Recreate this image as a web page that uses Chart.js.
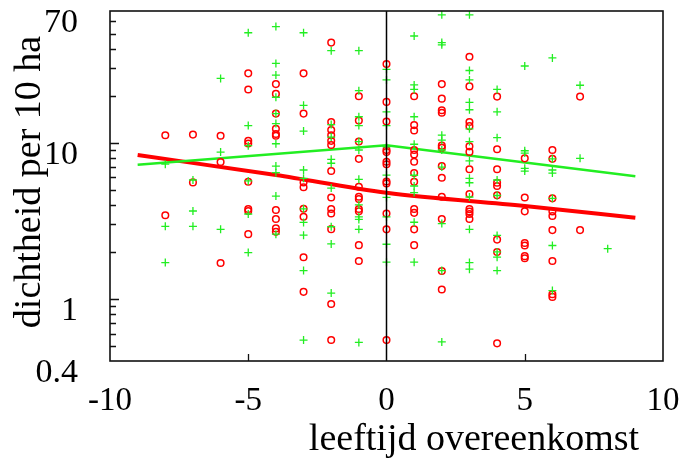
<!DOCTYPE html>
<html>
<head>
<meta charset="utf-8">
<script src="https://cdn.jsdelivr.net/npm/chart.js@4.4.1/dist/chart.umd.min.js"></script>
<style>
  html, body { margin: 0; padding: 0; background: #fff; }
  #wrap { width: 683px; height: 466px; }
</style>
</head>
<body>
<div id="wrap"><canvas id="grafico"></canvas></div>
<script>
// leeftijd overeenkomst (x) per kolom
const leeftijd = [-8, -7, -6, -5, -4, -3, -2, -1, 0, 1, 2, 3, 4, 5, 6, 7, 8];

// rode rondjes, dichtheid per kolom
const roodDichtheid = [
  [11.2, 3.44],
  [11.3, 5.58],
  [11.1, 7.54, 1.70],
  [27.9, 22.0, 10.3, 9.9, 5.63, 3.77, 3.66, 2.60],
  [23.8, 20.6, 15.4, 12.3, 11.4, 11.1, 3.71, 3.25, 2.83, 2.69],
  [27.9, 15.4, 5.58, 5.19, 3.78, 3.36, 1.85, 1.11],
  [43.9, 13.6, 12.1, 11.2, 10.3, 9.68, 6.6, 4.47, 3.77, 3.53, 2.80, 0.927, 0.545],
  [19.9, 13.9, 10.2, 7.9, 5.23, 4.52, 4.36, 3.77, 3.64, 2.21, 1.75],
  [32.0, 18.3, 13.7, 9.0, 8.73, 7.57, 7.3, 5.66, 5.5, 3.53, 2.79, 0.545],
  [19.9, 13.0, 12.0, 9.0, 8.43, 7.57, 6.41, 5.63, 3.77, 3.56, 2.79, 2.21],
  [23.8, 19.2, 16.2, 15.6, 9.6, 9.3, 7.1, 5.97, 4.52, 3.25, 1.51, 1.15],
  [35.6, 23.0, 13.6, 12.8, 9.5, 8.75, 6.77, 4.7, 3.76, 3.63, 3.5, 3.25],
  [19.8, 9.1, 6.77, 5.55, 5.29, 4.61, 2.4, 2.0, 0.519],
  [7.96, 4.47, 3.64, 2.28, 2.2, 1.88, 1.82],
  [9.0, 7.9, 4.41, 3.63, 3.40, 2.76, 1.75, 1.07, 1.03],
  [19.8, 2.76],
  []
];

// groene plusjes, dichtheid per kolom
const groenDichtheid = [
  [7.3, 2.92, 1.71],
  [5.78, 3.66, 2.92],
  [25.9, 8.73, 2.79],
  [50.8, 12.9, 9.6, 5.7, 3.50, 1.98],
  [55.6, 32.3, 27.2, 19.6, 15.4, 13.3, 9.87, 7.1, 6.44, 4.56, 2.6],
  [50.8, 17.4, 11.9, 6.7, 5.93, 3.78, 3.09, 2.56, 1.52, 0.545],
  [39.0, 13.1, 10.9, 7.84, 7.4, 5.13, 2.9, 2.25, 1.09],
  [39.0, 21.6, 14.7, 12.9, 10.2, 9.0, 5.84, 4.0, 3.36, 3.23, 2.79, 0.526],
  [29.6, 25.3, 15.8, 12.9, 9.44, 6.22, 4.47, 3.36, 2.24, 1.72],
  [48.4, 23.5, 22.0, 14.7, 9.8, 6.2, 5.29, 4.8, 3.1, 1.72],
  [66.2, 43.9, 42.5, 11.2, 10.4, 9.0, 7.0, 3.04, 1.52, 0.53],
  [66.2, 29.1, 25.3, 18.2, 16.3, 12.3, 10.2, 7.66, 5.93, 5.55, 4.5, 2.79, 1.71, 1.55],
  [22.0, 15.8, 10.8, 5.78, 4.6, 2.55, 2.0, 1.85, 1.52],
  [31.1, 8.9, 8.6, 6.87, 6.6],
  [35.0, 7.9, 6.7, 6.4, 4.41, 2.2, 1.13],
  [23.4, 7.96],
  [2.10]
];

// fitlijnen
const lijnRoodX = [-9, -4, 0, 5, 9];
const lijnRoodY = [8.36, 6.22, 4.79, 3.94, 3.31];
const lijnGroenX = [-9, 0, 9];
const lijnGroenY = [7.24, 9.64, 6.12];

// assen
const xTicks = [-10, -5, 0, 5, 10];
const yTicks = [0.4, 1, 10, 70];
const yMajor = [1, 10];
const yMinor = [0.5, 0.6, 0.7, 0.8, 0.9, 2, 3, 4, 5, 6, 7, 8, 9, 20, 30, 40, 50, 60];

function punten(kolommen){
  const uit = [];
  kolommen.forEach((waarden, i) => waarden.forEach(v => uit.push({x: leeftijd[i], y: v})));
  return uit;
}

const lettertype = '"Liberation Serif", "Times New Roman", serif';

const kader = {
  id: 'kader',
  afterDatasetsDraw(chart){
    const {ctx, chartArea: a, scales} = chart;
    ctx.save();
    ctx.strokeStyle = '#111';
    ctx.lineWidth = 1.6;
    ctx.strokeRect(a.left, a.top, a.right - a.left, a.bottom - a.top);
    ctx.lineWidth = 1.3;
    ctx.beginPath();
    yMajor.forEach(v => {
      const y = Math.round(scales.y.getPixelForValue(v)) + 0.5;
      ctx.moveTo(a.left, y); ctx.lineTo(a.left + 9, y);
    });
    yMinor.forEach(v => {
      const y = Math.round(scales.y.getPixelForValue(v)) + 0.5;
      ctx.moveTo(a.left, y); ctx.lineTo(a.left + 6, y);
    });
    [-5, 5].forEach(v => {
      const x = Math.round(scales.x.getPixelForValue(v)) + 0.5;
      ctx.moveTo(x, a.bottom); ctx.lineTo(x, a.bottom - 7);
    });
    ctx.stroke();

    // astitels
    ctx.fillStyle = '#000';
    ctx.font = '38px ' + lettertype;
    ctx.textAlign = 'center';
    ctx.textBaseline = 'middle';
    ctx.fillText('leeftijd overeenkomst', 474, 440);
    ctx.translate(30, 182);
    ctx.rotate(-Math.PI / 2);
    ctx.fillText('dichtheid per 10 ha', 0, 0);
    ctx.restore();
  }
};

const ctx = document.getElementById('grafico').getContext('2d');
new Chart(ctx, {
  type: 'scatter',
  data: {
    datasets: [
      {
        label: 'nul',
        type: 'line',
        data: [{x: 0, y: 0.4}, {x: 0, y: 70}],
        borderColor: '#000',
        borderWidth: 1.5,
        pointRadius: 0
      },
      {
        label: 'groen',
        data: punten(groenDichtheid),
        pointStyle: 'cross',
        pointRadius: 4,
        borderColor: '#22ee22',
        borderWidth: 1.3
      },
      {
        label: 'rood',
        data: punten(roodDichtheid),
        pointStyle: 'circle',
        pointRadius: 3.3,
        borderColor: '#ff0000',
        backgroundColor: 'rgba(0,0,0,0)',
        borderWidth: 1.5
      },
      {
        label: 'fit groen',
        type: 'line',
        data: lijnGroenX.map((x, i) => ({x, y: lijnGroenY[i]})),
        borderColor: '#22ee22',
        borderWidth: 2.5,
        pointRadius: 0,
        tension: 0
      },
      {
        label: 'fit rood',
        type: 'line',
        data: lijnRoodX.map((x, i) => ({x, y: lijnRoodY[i]})),
        borderColor: '#ff0000',
        borderWidth: 4,
        pointRadius: 0,
        cubicInterpolationMode: 'monotone'
      }
    ]
  },
  options: {
    responsive: true,
    maintainAspectRatio: false,
    animation: false,
    events: [],
    layout: { padding: { top: 11, right: 20, left: 0, bottom: 0 } },
    plugins: { legend: { display: false }, tooltip: { enabled: false } },
    scales: {
      x: {
        type: 'linear',
        min: -10, max: 10,
        afterBuildTicks: ax => { ax.ticks = xTicks.map(v => ({value: v})); },
        afterFit: ax => { ax.height = 105; ax.paddingLeft = 0; ax.paddingRight = 0; },
        grid: { display: false },
        border: { display: false },
        ticks: { color: '#000', padding: 13, maxRotation: 0, font: { family: lettertype, size: 33 } }
      },
      y: {
        type: 'logarithmic',
        min: 0.4, max: 70,
        afterBuildTicks: ax => { ax.ticks = yTicks.map(v => ({value: v})); },
        afterFit: ax => { ax.width = 110; ax.paddingTop = 0; ax.paddingBottom = 0; },
        grid: { display: false },
        border: { display: false },
        ticks: {
          color: '#000', padding: 24, labelOffset: 12,
          font: { family: lettertype, size: 34 },
          callback: v => String(v)
        }
      }
    }
  },
  plugins: [kader]
});
</script>
</body>
</html>
